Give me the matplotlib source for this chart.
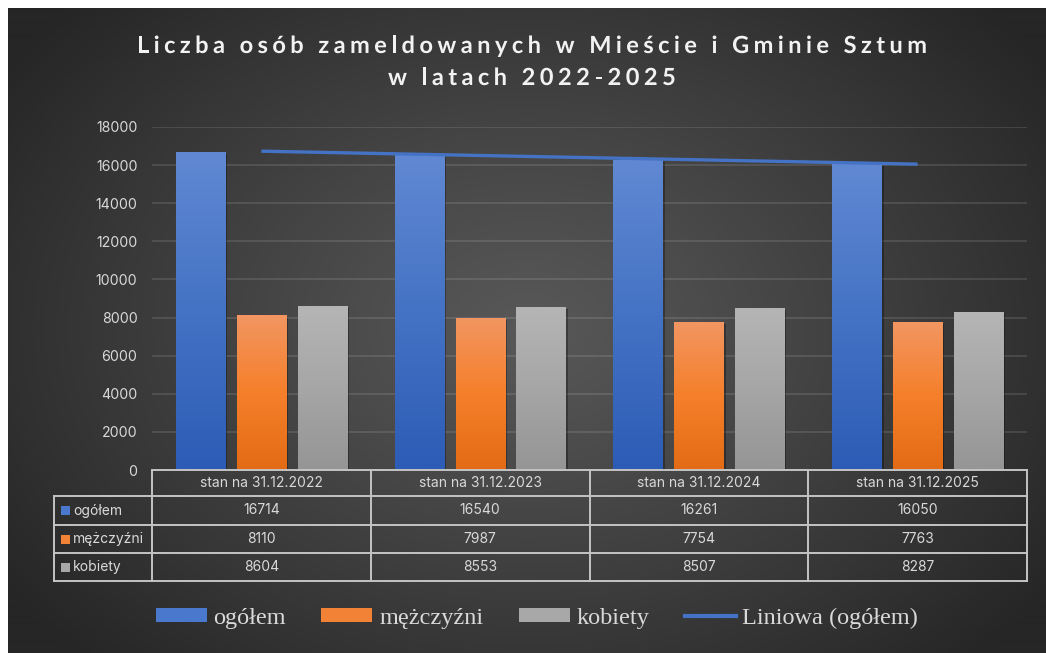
import numpy as np
import matplotlib
matplotlib.use('Agg')
import matplotlib.pyplot as plt
from matplotlib.patches import Rectangle, Patch
from matplotlib.lines import Line2D
from matplotlib.colors import LinearSegmentedColormap
from matplotlib.font_manager import FontProperties
import matplotlib.patheffects as pe

# ---------------- data ----------------
categories = ['stan na 31.12.2022', 'stan na 31.12.2023', 'stan na 31.12.2024', 'stan na 31.12.2025']
series_names = ['ogółem', 'mężczyźni', 'kobiety']
ogolem = [16714, 16540, 16261, 16050]
mezczyzni = [8110, 7987, 7754, 7763]
kobiety = [8604, 8553, 8507, 8287]
yticks = [0, 2000, 4000, 6000, 8000, 10000, 12000, 14000, 16000, 18000]
trend_label = 'Liniowa (ogółem)'
title_lines = ['Liczba osób zameldowanych w Mieście i Gminie Sztum', 'w latach 2022-2025']

# ---------------- style ----------------
W, H = 1046, 653
TXT = '#d9d9d9'
grad_colors = [
    ['#2d5cb6', '#4472c4', '#6189d3'],   # blue (bottom, mid, top)
    ['#e36b16', '#f57f2a', '#f29662'],   # orange
    ['#959595', '#a6a6a6', '#b5b5b5'],   # gray
]
solid_colors = ['#4a78cc', '#f28236', '#a8a8a8']
offsets = [-0.278, 0.0, 0.278]
bar_w = 0.225

fig = plt.figure(figsize=(W / 100, H / 100), dpi=100)
fig.patch.set_facecolor('white')

def fx(px):
    return px / W

def fy(py):
    return 1 - py / H

# background radial gradient (overflows right/bottom edges)
bgax = fig.add_axes([8 / W, -0.02, 1 - 8 / W + 0.02, 1 - 8 / H + 0.02])
bgax.set_zorder(-10)
bgax.axis('off')
hh, ww = H - 8 + 13, W - 8 + 21
yy, xx = np.mgrid[0:hh, 0:ww]
cx, cy = 520, 320
r = np.sqrt(((xx - cx) / (ww * 0.60)) ** 2 + ((yy - cy) / (hh * 0.70)) ** 2)
c_center, c_edge = 0x58 / 255, 0x26 / 255
val = np.clip(c_center - (c_center - c_edge) * np.clip(r, 0, 1) ** 1.1, 0, 1)
img = np.dstack([val, val, val])
bgax.imshow(img, extent=[0, 1, 0, 1], aspect='auto', origin='upper')
bgax.set_xlim(0, 1)
bgax.set_ylim(0, 1)

# main axes
ax = fig.add_axes([fx(152), fy(470), 875 / W, 343 / H])
ax.set_facecolor('none')
for s in ax.spines.values():
    s.set_visible(False)
ax.set_xlim(-0.5, len(categories) - 0.5)
ax.set_ylim(0, 18000)
ax.set_yticks(yticks)
ax.set_yticklabels([str(t) for t in yticks], color=TXT, fontsize=10.2, family='Inter')
ax.tick_params(axis='y', length=0, pad=10.5)
ax.set_xticks([])
ax.yaxis.grid(True, color='#ffffff', alpha=0.13, lw=1.2)
ax.set_axisbelow(True)

idx = np.arange(len(categories))
all_series = [ogolem, mezczyzni, kobiety]
grad = np.linspace(0, 1, 256).reshape(-1, 1)
for si, vals in enumerate(all_series):
    cmap = LinearSegmentedColormap.from_list('g%d' % si, grad_colors[si])
    bars = ax.bar(idx + offsets[si], vals, width=bar_w, color=solid_colors[si], zorder=2,
                  linewidth=0)
    for b in bars:
        b.set_path_effects([pe.SimplePatchShadow(offset=(1.5, -1.5), alpha=0.3,
                                                 shadow_rgbFace='black'), pe.Normal()])
        x0 = b.get_x()
        x1 = x0 + b.get_width()
        h = b.get_height()
        im = ax.imshow(grad, cmap=cmap, extent=[x0, x1, 0, h], aspect='auto',
                       origin='lower', zorder=3)
        im.set_clip_path(b)

coef = np.polyfit(idx, ogolem, 1)
ax.plot(idx, np.polyval(coef, idx), color='#4472c4', lw=2.4, zorder=5,
        solid_capstyle='butt')
ax.set_xlim(-0.5, len(categories) - 0.5)
ax.set_ylim(0, 18000)

# ---------------- data table ----------------
edges = [ax.transData.transform((e, 0))[0] for e in np.arange(-0.5, len(categories))]
left_px = 54
row_y = [470, 496, 525, 553, 581]
LC = '#c4c4c4'
LW = 1.4

def hline(x0, x1, y):
    fig.add_artist(Line2D([fx(x0), fx(x1)], [fy(y), fy(y)], transform=fig.transFigure,
                          color=LC, lw=LW))

def vline(x, y0, y1):
    fig.add_artist(Line2D([fx(x), fx(x)], [fy(y0), fy(y1)], transform=fig.transFigure,
                          color=LC, lw=LW))

hline(edges[0], edges[-1], row_y[0])
for y in row_y[1:]:
    hline(left_px, edges[-1], y)
vline(left_px, row_y[1], row_y[-1])
for e in edges:
    vline(e, row_y[0], row_y[-1])

tfont = dict(color=TXT, fontsize=10, family='Inter', ha='center', va='center')
for ci, cat in enumerate(categories):
    xc = (edges[ci] + edges[ci + 1]) / 2
    fig.text(fx(xc), fy((row_y[0] + row_y[1]) / 2), cat, **tfont)
    for si, vals in enumerate(all_series):
        fig.text(fx(xc), fy((row_y[si + 1] + row_y[si + 2]) / 2), str(vals[ci]), **tfont)

for si, name in enumerate(series_names):
    ymid = (row_y[si + 1] + row_y[si + 2]) / 2
    fig.add_artist(Rectangle((fx(61), fy(ymid + 4.5)), 9 / W, 9 / H, transform=fig.transFigure,
                             facecolor=solid_colors[si], edgecolor='none'))
    fig.text(fx(73), fy(ymid), name, color=TXT, fontsize=10, family='Inter',
             ha='left', va='center')

# ---------------- legend ----------------
handles = [Patch(facecolor=c, edgecolor='none') for c in solid_colors]
handles.append(Line2D([], [], color='#4472c4', lw=3))
labels = series_names + [trend_label]
leg = fig.legend(handles, labels, loc='center', bbox_to_anchor=(fx(537), fy(618)), ncol=4,
                 frameon=False, prop=FontProperties(family='Liberation Serif', size=17.5),
                 labelcolor=TXT, handlelength=2.1, handleheight=0.5, handletextpad=0.28,
                 columnspacing=1.45)

# ---------------- title (letter spaced) ----------------
renderer = fig.canvas.get_renderer()
tfp = FontProperties(family='Lato', weight='bold', size=17)

def tw(t):
    return renderer.get_text_width_height_descent(t, tfp, ismath=False)[0]

def advances(s):
    base = tw('||')
    return [tw('|' + c + '|') - base for c in s]

adv1 = advances(title_lines[0])
spacing = (790 - sum(adv1)) / (len(title_lines[0]) - 1)
title_y = [53, 85]
for line, yb in zip(title_lines, title_y):
    adv = advances(line)
    total = sum(adv) + spacing * (len(line) - 1)
    x = 532 - total / 2
    for c, a in zip(line, adv):
        t = fig.text(fx(x), fy(yb), c, fontproperties=tfp, color='#f2f2f2',
                     ha='left', va='baseline')
        t.set_path_effects([pe.SimpleLineShadow(offset=(1, -1), alpha=0.4), pe.Normal()])
        x += a + spacing

fig.savefig('out.png', dpi=100, facecolor=fig.get_facecolor())
